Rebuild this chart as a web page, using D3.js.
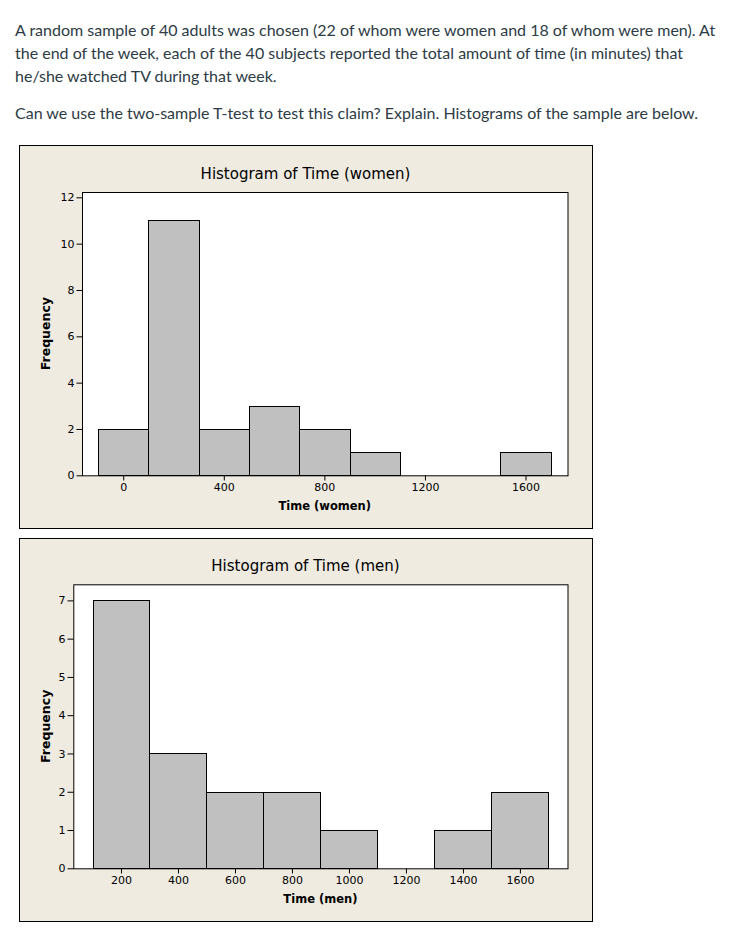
<!DOCTYPE html>
<html><head><meta charset="utf-8">
<script src="https://cdn.jsdelivr.net/npm/d3@7"></script>
<style>html,body{margin:0;padding:0;background:#fff;}svg{display:block;}</style>
</head><body>
<script>
// ---- data ----
const introLines = [
  "A random sample of 40 adults was chosen (22 of whom were women and 18 of whom were men). At",
  "the end of the week, each of the 40 subjects reported the total amount of time (in minutes) that",
  "he/she watched TV during that week."
];
const questionLine = "Can we use the two-sample T-test to test this claim? Explain. Histograms of the sample are below.";

const binWidth = 200;
const womenBinStarts = [-100, 100, 300, 500, 700, 900, 1100, 1300, 1500];
const womenCounts    = [2, 11, 2, 3, 2, 1, 0, 0, 1];
const womenXTicks    = [0, 400, 800, 1200, 1600];
const womenYTicks    = [0, 2, 4, 6, 8, 10, 12];

const menBinStarts = [100, 300, 500, 700, 900, 1100, 1300, 1500];
const menCounts    = [7, 3, 2, 2, 1, 0, 1, 2];
const menXTicks    = [200, 400, 600, 800, 1000, 1200, 1400, 1600];
const menYTicks    = [0, 1, 2, 3, 4, 5, 6, 7];

const W = 752, H = 935;
const FONT = "DejaVu Sans, Verdana, sans-serif";
const svg = d3.select("body").append("svg").attr("width", W).attr("height", H);

// ---- intro text ----
const txt = svg.append("g").attr("font-family", "Lato, sans-serif").attr("font-size", 16).attr("fill", "#2d3b45");
introLines.forEach((l, i) => txt.append("text").attr("x", 15).attr("y", 36 + i * 23).text(l));
txt.append("text").attr("x", 15).attr("y", 119).text(questionLine);

function drawHist(cfg) {
  const g = svg.append("g");
  g.append("rect").attr("x", cfg.panel[0] + 0.5).attr("y", cfg.panel[1] + 0.5)
    .attr("width", cfg.panel[2] - cfg.panel[0]).attr("height", cfg.panel[3] - cfg.panel[1])
    .attr("fill", "#efebe1").attr("stroke", "#000").attr("stroke-width", 1);

  const x = d3.scaleLinear().domain(cfg.xDomain).range([cfg.plot[0], cfg.plot[2]]);
  const y = d3.scaleLinear().domain(cfg.yDomain).range([cfg.plot[3], cfg.plot[1]]);

  g.append("rect").attr("x", cfg.plot[0] + 0.5).attr("y", cfg.plot[1] + 0.5)
    .attr("width", cfg.plot[2] - cfg.plot[0]).attr("height", cfg.plot[3] - cfg.plot[1])
    .attr("fill", "#fff").attr("stroke", "#000");

  const bins = cfg.starts.map((s, i) => ({ s, c: cfg.counts[i] })).filter(d => d.c > 0);
  g.selectAll("rect.bar").data(bins).join("rect").attr("class", "bar")
    .attr("x", d => Math.round(x(d.s)) + 0.5)
    .attr("y", d => Math.round(y(d.c)) + 0.5)
    .attr("width", d => Math.round(x(d.s + binWidth)) - Math.round(x(d.s)))
    .attr("height", d => Math.round(y(0)) - Math.round(y(d.c)))
    .attr("fill", "#c0c0c0").attr("stroke", "#000");

  const xa = g.append("g").attr("transform", `translate(0,${Math.round(cfg.plot[3]) + 0.5})`)
    .call(d3.axisBottom(x).tickValues(cfg.xTicks).tickFormat(d3.format("d")).tickSize(5).tickPadding(3).tickSizeOuter(0));
  xa.select(".domain").remove();
  const ya = g.append("g").attr("transform", `translate(${Math.round(cfg.plot[0]) + 0.5},0)`)
    .call(d3.axisLeft(y).tickValues(cfg.yTicks).tickFormat(d3.format("d")).tickSize(6).tickPadding(2).tickSizeOuter(0));
  ya.select(".domain").remove();
  [xa, ya].forEach(a => {
    a.attr("font-family", FONT).attr("font-size", 11);
    a.selectAll("text").attr("fill", "#000");
    a.selectAll("line").attr("stroke", "#000");
  });

  g.append("text").attr("x", (cfg.panel[0] + cfg.panel[2]) / 2).attr("y", cfg.titleY)
    .attr("text-anchor", "middle").attr("font-family", FONT)
    .attr("font-size", 15).text(cfg.title);
  g.append("text").attr("x", (cfg.plot[0] + cfg.plot[2]) / 2).attr("y", cfg.xLabelY)
    .attr("text-anchor", "middle").attr("font-family", FONT)
    .attr("font-size", 11.5).attr("font-weight", "bold").text(cfg.xLabel);
  g.append("text").attr("transform", `translate(${cfg.yLabelX},${(cfg.plot[1] + cfg.plot[3]) / 2}) rotate(-90)`)
    .attr("text-anchor", "middle").attr("font-family", FONT)
    .attr("font-size", 12.5).attr("font-weight", "bold").text("Frequency");
}

drawHist({
  panel: [19, 145, 592, 528], plot: [82, 192, 567.5, 475.3],
  xDomain: [-164, 1767], yDomain: [0, 12.23],
  starts: womenBinStarts, counts: womenCounts, xTicks: womenXTicks, yTicks: womenYTicks,
  title: "Histogram of Time (women)", titleY: 179, xLabel: "Time (women)", xLabelY: 510, yLabelX: 50
});
drawHist({
  panel: [19, 538, 592, 921], plot: [73.3, 584.3, 567.5, 868.3],
  xDomain: [32.6, 1767], yDomain: [0, 7.42],
  starts: menBinStarts, counts: menCounts, xTicks: menXTicks, yTicks: menYTicks,
  title: "Histogram of Time (men)", titleY: 571, xLabel: "Time (men)", xLabelY: 903, yLabelX: 50
});
</script>
</body></html>
